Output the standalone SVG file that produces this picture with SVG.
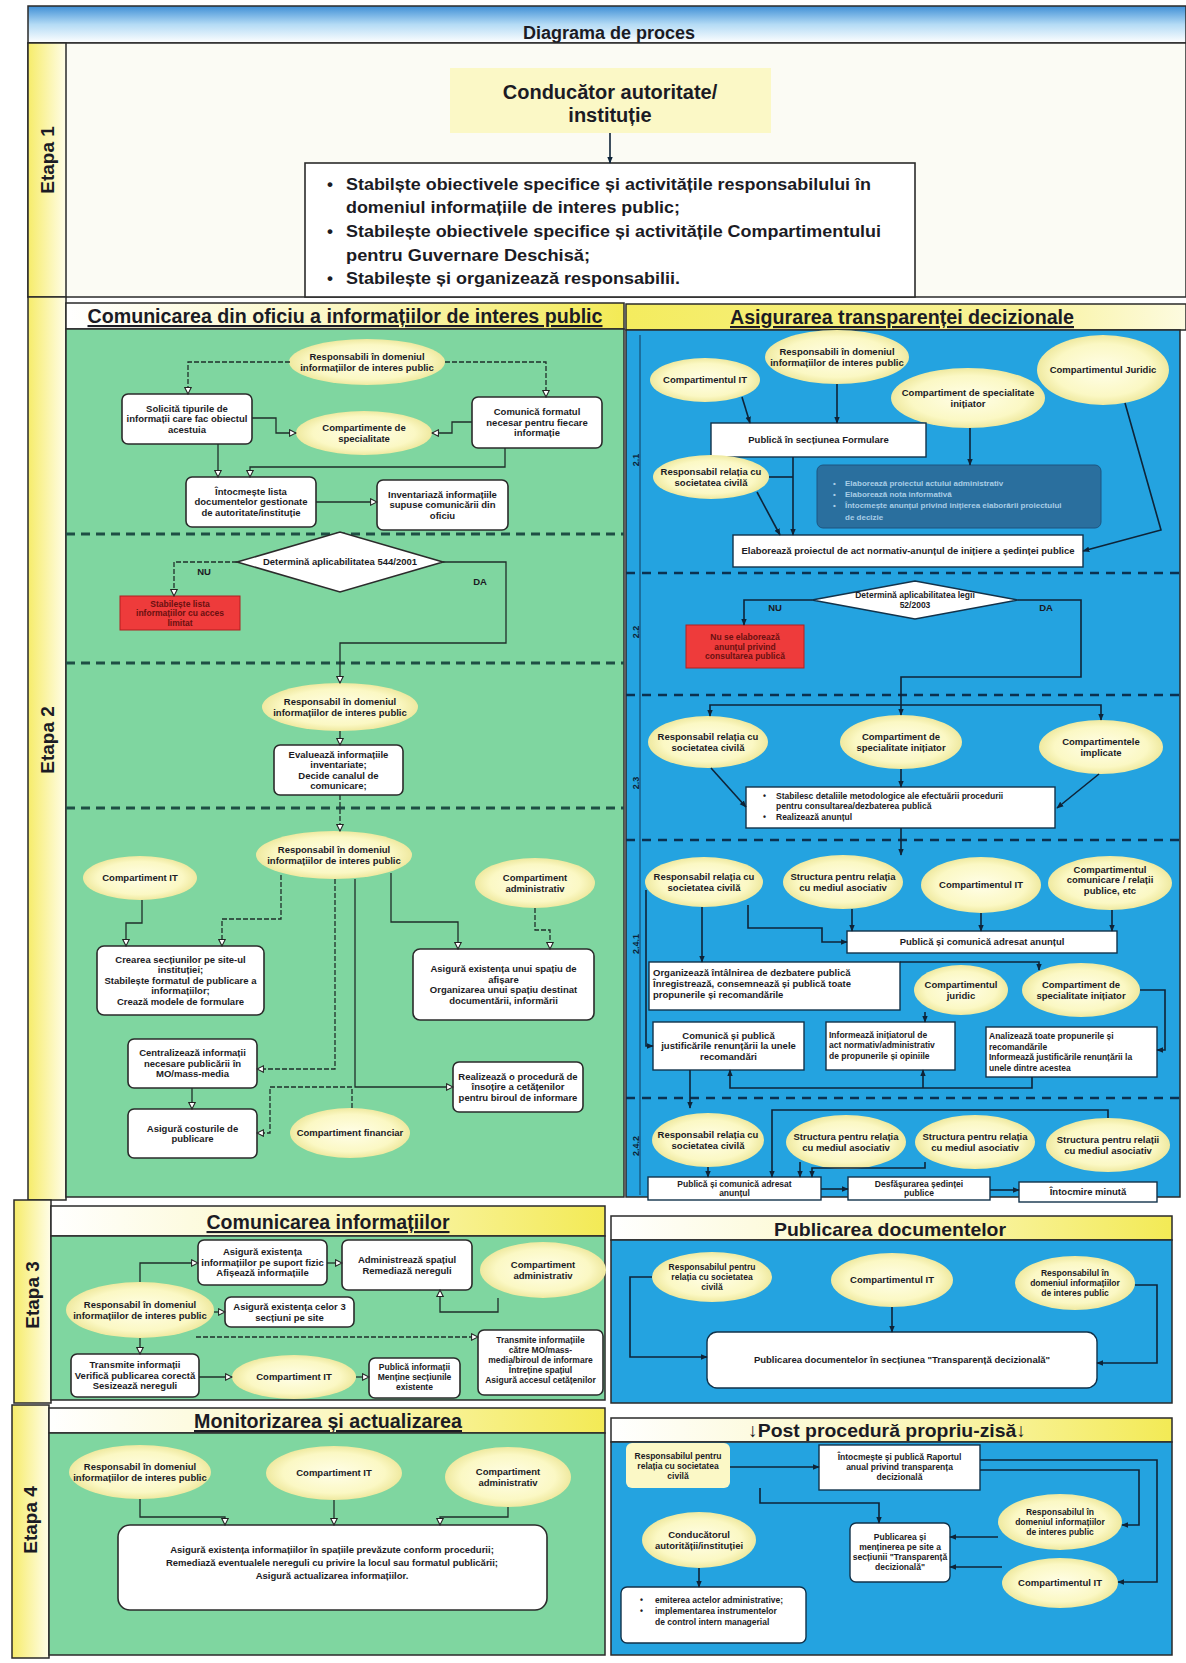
<svg xmlns="http://www.w3.org/2000/svg" width="1186" height="1663" viewBox="0 0 1186 1663">
<defs>
<style>
.t{font-family:"Liberation Sans Narrow","Liberation Sans",Arial,sans-serif;font-weight:bold;fill:#1b1b24}
.n{font-size:9.5px;text-anchor:middle}
.nb{font-size:8.5px;text-anchor:middle}
.l{text-anchor:start}
.hd{font-size:21px;text-anchor:middle;text-decoration:underline}
.et{font-size:19px;text-anchor:middle}
.box{fill:#fff;stroke:#2b2b2b;stroke-width:1.6}
.bbox{fill:#fff;stroke:#12324a;stroke-width:1.4}
.el{fill:url(#gEl)}
.cg{fill:none;stroke:#1f2f2a;stroke-width:1.3;marker-end:url(#ao)}
.dash{stroke-dasharray:5 2}
.cb{fill:none;stroke:#0e2438;stroke-width:1.6;marker-end:url(#af)}
.sep{stroke:#1e4e44;stroke-width:3;stroke-dasharray:9 6}
.sepb{stroke:#0b3150;stroke-width:2.5;stroke-dasharray:9 7}
.frame{stroke:#2a2a2a;stroke-width:1.5}
.green{fill:#7fd6a0}
.blue{fill:#24a3e0}
.red{fill:#ee3b3b;stroke:#b02020;stroke-width:1}
.rt{font-size:8.5px;text-anchor:middle;fill:#6a1010}
.lab{font-size:9px;text-anchor:middle;fill:#0d2236}
</style>
<linearGradient id="gTitle" x1="0" y1="0" x2="0" y2="1"><stop offset="0" stop-color="#3f8fd6"/><stop offset="0.5" stop-color="#b4dbf5"/><stop offset="1" stop-color="#ffffff"/></linearGradient>
<linearGradient id="gHdr" x1="0" y1="0" x2="1" y2="0"><stop offset="0" stop-color="#ffffff"/><stop offset="0.5" stop-color="#fbf7c2"/><stop offset="1" stop-color="#f3ea55"/></linearGradient>
<linearGradient id="gHdr2" x1="0" y1="0" x2="1" y2="0"><stop offset="0" stop-color="#f4ec5e"/><stop offset="0.7" stop-color="#f8f29a"/><stop offset="1" stop-color="#fdfbe0"/></linearGradient>
<linearGradient id="gLbl" x1="0" y1="0" x2="1" y2="0"><stop offset="0" stop-color="#f6ec6a"/><stop offset="1" stop-color="#fffde8"/></linearGradient>
<radialGradient id="gEl"><stop offset="0" stop-color="#fffee8"/><stop offset="0.75" stop-color="#fbf8c4"/><stop offset="1" stop-color="#efe9a0"/></radialGradient>
<marker id="ao" viewBox="0 0 10 10" refX="9" refY="5" markerWidth="8" markerHeight="8" orient="auto" markerUnits="userSpaceOnUse"><path d="M1,1 L9,5 L1,9 Z" fill="#fff" stroke="#222" stroke-width="1.3"/></marker>
<marker id="af" viewBox="0 0 10 10" refX="9" refY="5" markerWidth="7" markerHeight="7" orient="auto" markerUnits="userSpaceOnUse"><path d="M0,1 L10,5 L0,9 Z" fill="#0e2438"/></marker>
</defs>
<rect width="1186" height="1663" fill="#ffffff"/>

<!-- frames and panels -->
<g id="frames">
<rect x="28" y="6" width="1158" height="37" fill="url(#gTitle)" class="frame"/>
<text class="t" x="609" y="39" font-size="18" text-anchor="middle">Diagrama de proces</text>
<rect x="28" y="43" width="1158" height="254" fill="#fbfbf4" class="frame"/>
<rect x="28" y="43" width="38" height="254" fill="url(#gLbl)" class="frame"/>
<text class="t et" transform="translate(54,160) rotate(-90)">Etapa 1</text>

<rect x="28" y="297" width="38" height="903" fill="url(#gLbl)" class="frame"/>
<text class="t et" transform="translate(54,740) rotate(-90)">Etapa 2</text>
<rect x="66" y="303" width="558" height="26" fill="url(#gHdr)" class="frame"/>
<text class="t hd" x="345" y="323" textLength="515" lengthAdjust="spacingAndGlyphs">Comunicarea din oficiu a informațiilor de interes public</text>
<rect x="626" y="304" width="560" height="26" fill="url(#gHdr2)" class="frame"/>
<text class="t hd" x="902" y="324" textLength="344" lengthAdjust="spacingAndGlyphs">Asigurarea transparenței decizionale</text>
<rect x="66" y="329" width="558" height="868" class="green frame"/>
<rect x="626" y="330" width="554" height="867" class="blue frame"/>
<line x1="640" y1="335" x2="640" y2="1195" stroke="#123a5a" stroke-width="1"/>
<text class="t lab" transform="translate(639,460) rotate(-90)">2.1</text>
<text class="t lab" transform="translate(639,632) rotate(-90)">2.2</text>
<text class="t lab" transform="translate(639,783) rotate(-90)">2.3</text>
<text class="t lab" transform="translate(639,944) rotate(-90)">2.4.1</text>
<text class="t lab" transform="translate(639,1146) rotate(-90)">2.4.2</text>
<line x1="66" y1="534" x2="624" y2="534" class="sep"/>
<line x1="66" y1="663" x2="624" y2="663" class="sep"/>
<line x1="66" y1="808" x2="624" y2="808" class="sep"/>
<line x1="626" y1="573" x2="1180" y2="573" class="sepb"/>
<line x1="626" y1="695" x2="1180" y2="695" class="sepb"/>
<line x1="626" y1="840" x2="1180" y2="840" class="sepb"/>
<line x1="626" y1="1098" x2="1180" y2="1098" class="sepb"/>

<rect x="14" y="1200" width="37" height="203" fill="url(#gLbl)" class="frame"/>
<text class="t et" transform="translate(39,1295) rotate(-90)">Etapa 3</text>
<rect x="51" y="1206" width="554" height="30" fill="url(#gHdr)" class="frame"/>
<text class="t hd" x="328" y="1229" textLength="243" lengthAdjust="spacingAndGlyphs">Comunicarea informațiilor</text>
<rect x="51" y="1236" width="554" height="164" class="green frame"/>
<rect x="611" y="1216" width="561" height="24" fill="url(#gHdr)" class="frame"/>
<text class="t" x="890" y="1236" font-size="19" text-anchor="middle" textLength="232" lengthAdjust="spacingAndGlyphs">Publicarea documentelor</text>
<rect x="611" y="1240" width="561" height="163" class="blue frame"/>

<rect x="12" y="1405" width="37" height="253" fill="url(#gLbl)" class="frame"/>
<text class="t et" transform="translate(37,1520) rotate(-90)">Etapa 4</text>
<rect x="49" y="1408" width="556" height="25" fill="url(#gHdr)" class="frame"/>
<text class="t hd" x="328" y="1428" textLength="268" lengthAdjust="spacingAndGlyphs">Monitorizarea și actualizarea</text>
<rect x="49" y="1433" width="556" height="222" class="green frame"/>
<rect x="611" y="1418" width="561" height="24" fill="url(#gHdr)" class="frame"/>
<text class="t" x="887" y="1437" font-size="19" text-anchor="middle" textLength="278" lengthAdjust="spacingAndGlyphs">↓Post procedură propriu-zisă↓</text>
<rect x="611" y="1442" width="561" height="213" class="blue frame"/>
</g>

<!-- Etapa 1 nodes -->
<g id="n-conducator">
<rect x="450" y="68" width="321" height="65" fill="#fbf8c6"/>
<text class="t" font-size="20" text-anchor="middle" x="610" y="99">Conducător autoritate/</text>
<text class="t" font-size="20" text-anchor="middle" x="610" y="122">instituție</text>
</g>
<g id="n-obiective">
<rect x="305" y="163" width="610" height="134" class="box"/>
<g class="t" font-size="17">
<text x="327" y="190">•</text>
<text x="346" y="190" textLength="525" lengthAdjust="spacingAndGlyphs">Stabilște obiectivele specifice și activitățile responsabilului în</text>
<text x="346" y="213" textLength="334" lengthAdjust="spacingAndGlyphs">domeniul informațiile de interes  public;</text>
<text x="327" y="237">•</text>
<text x="346" y="237" textLength="535" lengthAdjust="spacingAndGlyphs">Stabilește obiectivele specifice și activitățile Compartimentului</text>
<text x="346" y="261" textLength="244" lengthAdjust="spacingAndGlyphs">pentru Guvernare Deschisă;</text>
<text x="327" y="284">•</text>
<text x="346" y="284" textLength="334" lengthAdjust="spacingAndGlyphs">Stabilește și organizează responsabilii.</text>
</g>
</g>

<!-- Etapa 2 left nodes -->
<g id="g-resp1"><ellipse cx="367" cy="362" rx="78" ry="23" class="el"/><text class="t n"><tspan x="367" y="360">Responsabili în domeniul</tspan><tspan x="367" y="370.5">informațiilor de interes public</tspan></text></g>
<g id="g-solicita"><rect x="122" y="394" width="130" height="50" rx="6" class="box"/><text class="t n"><tspan x="187" y="411.8">Solicită  tipurile de</tspan><tspan x="187" y="422.3">informații care fac obiectul</tspan><tspan x="187" y="432.8">acestuia</tspan></text></g>
<g id="g-compspec"><ellipse cx="364" cy="433" rx="68" ry="22" class="el"/><text class="t n"><tspan x="364" y="431">Compartimente de</tspan><tspan x="364" y="441.5">specialitate</tspan></text></g>
<g id="g-comunica"><rect x="472" y="397" width="130" height="51" rx="6" class="box"/><text class="t n"><tspan x="537" y="415.3">Comunică formatul</tspan><tspan x="537" y="425.8">necesar pentru fiecare</tspan><tspan x="537" y="436.3">informație</tspan></text></g>
<g id="g-intocmeste"><rect x="186" y="477" width="130" height="50" rx="6" class="box"/><text class="t n"><tspan x="251" y="494.8">Întocmește lista</tspan><tspan x="251" y="505.3">documentelor gestionate</tspan><tspan x="251" y="515.8">de autoritate/instituție</tspan></text></g>
<g id="g-inventariaza"><rect x="377" y="480" width="131" height="50" rx="6" class="box"/><text class="t n"><tspan x="442.5" y="497.8">Inventariază informațiile</tspan><tspan x="442.5" y="508.3">supuse comunicării din</tspan><tspan x="442.5" y="518.8">oficiu</tspan></text></g>
<g id="g-decizie"><polygon points="237,562 340,532 443,562 340,592" fill="#fff" stroke="#2b2b2b" stroke-width="1.6"/><text class="t n" x="340" y="565">Determină aplicabilitatea 544/2001</text><text class="t n" x="204" y="575">NU</text><text class="t n" x="480" y="585">DA</text></g>
<g id="g-restrict"><rect x="120" y="596" width="120" height="34" class="red"/><text class="t rt"><tspan x="180" y="606.5">Stabilește lista</tspan><tspan x="180" y="616">informațiilor cu acces</tspan><tspan x="180" y="625.5">limitat</tspan></text></g>
<g id="g-resp2"><ellipse cx="340" cy="707" rx="78" ry="24" class="el"/><text class="t n"><tspan x="340" y="705">Responsabil în domeniul</tspan><tspan x="340" y="715.5">informațiilor de interes public</tspan></text></g>
<g id="g-evalueaza"><rect x="274" y="745" width="129" height="50" rx="6" class="box"/><text class="t n"><tspan x="338.5" y="757.5">Evaluează informațiile</tspan><tspan x="338.5" y="768">inventariate;</tspan><tspan x="338.5" y="778.5">Decide canalul de</tspan><tspan x="338.5" y="789">comunicare;</tspan></text></g>
<g id="g-resp3"><ellipse cx="334" cy="855" rx="78" ry="24" class="el"/><text class="t n"><tspan x="334" y="853">Responsabil în domeniul</tspan><tspan x="334" y="863.5">informațiilor de interes public</tspan></text></g>
<g id="g-it"><ellipse cx="140" cy="878" rx="57" ry="22" class="el"/><text class="t n" x="140" y="881.3">Compartiment IT</text></g>
<g id="g-admin"><ellipse cx="535" cy="883" rx="60" ry="25" class="el"/><text class="t n"><tspan x="535" y="881">Compartiment</tspan><tspan x="535" y="891.5">administrativ</tspan></text></g>
<g id="g-crearea"><rect x="97" y="946" width="167" height="69" rx="7" class="box"/><text class="t n"><tspan x="180.5" y="962.8">Crearea secțiunilor pe site-ul</tspan><tspan x="180.5" y="973.3">instituției;</tspan><tspan x="180.5" y="983.8">Stabilește formatul de publicare a</tspan><tspan x="180.5" y="994.3">informațiilor;</tspan><tspan x="180.5" y="1004.8">Crează modele de formulare</tspan></text></g>
<g id="g-spatiu"><rect x="413" y="949" width="181" height="71" rx="7" class="box"/><text class="t n"><tspan x="503.5" y="972">Asigură existența unui spațiu de</tspan><tspan x="503.5" y="982.5">afișare</tspan><tspan x="503.5" y="993">Organizarea unui spațiu destinat</tspan><tspan x="503.5" y="1003.5">documentării, informării</tspan></text></g>
<g id="g-centralizeaza"><rect x="128" y="1039" width="129" height="49" rx="6" class="box"/><text class="t n"><tspan x="192.5" y="1056.3">Centralizează informații</tspan><tspan x="192.5" y="1066.8">necesare publicării în</tspan><tspan x="192.5" y="1077.3">MO/mass-media</tspan></text></g>
<g id="g-realizeaza"><rect x="453" y="1062" width="130" height="50" rx="6" class="box"/><text class="t n"><tspan x="518" y="1079.8">Realizează o procedură de</tspan><tspan x="518" y="1090.3">însoțire a cetățenilor</tspan><tspan x="518" y="1100.8">pentru biroul de informare</tspan></text></g>
<g id="g-costuri"><rect x="128" y="1109" width="129" height="49" rx="6" class="box"/><text class="t n"><tspan x="192.5" y="1131.5">Asigură costurile de</tspan><tspan x="192.5" y="1142">publicare</tspan></text></g>
<g id="g-financiar"><ellipse cx="350" cy="1133" rx="60" ry="25" class="el"/><text class="t n" x="350" y="1136.3">Compartiment financiar</text></g>

<!-- Etapa 2 right nodes -->
<g id="b-it1"><ellipse cx="705" cy="380" rx="55" ry="22" class="el"/><text class="t n" x="705" y="383.3">Compartimentul IT</text></g>
<g id="b-resp1"><ellipse cx="837" cy="357" rx="72" ry="27" class="el"/><text class="t n"><tspan x="837" y="355">Responsabili în domeniul</tspan><tspan x="837" y="365.5">informațiilor de interes public</tspan></text></g>
<g id="b-spec1"><ellipse cx="968" cy="398" rx="77" ry="30" class="el"/><text class="t n"><tspan x="968" y="396">Compartiment de specialitate</tspan><tspan x="968" y="406.5">inițiator</tspan></text></g>
<g id="b-juridic1"><ellipse cx="1103" cy="370" rx="66" ry="35" class="el"/><text class="t n" x="1103" y="373.3">Compartimentul Juridic</text></g>
<g id="b-formulare"><rect x="711" y="423" width="215" height="34" class="bbox"/><text class="t n" x="818.5" y="443.3">Publică în secțiunea Formulare</text></g>
<g id="b-soc1"><ellipse cx="711" cy="477" rx="58" ry="22" class="el"/><text class="t n"><tspan x="711" y="475">Responsabil relația cu</tspan><tspan x="711" y="485.5">societatea civilă</tspan></text></g>
<g id="b-elab"><rect x="817" y="465" width="284" height="63" rx="6" fill="#2a6f9e" stroke="#1d5580" stroke-width="1"/>
<g class="t" font-size="8" style="fill:#a8cde6">
<text x="833" y="486">•</text><text x="845" y="486">Elaborează proiectul actului administrativ</text>
<text x="833" y="497">•</text><text x="845" y="497">Elaborează nota informativă</text>
<text x="833" y="508">•</text><text x="845" y="508">Întocmește anunțul privind inițierea elaborării proiectului</text>
<text x="845" y="520">de decizie</text></g></g>
<g id="b-anunt"><rect x="733" y="535" width="350" height="32" class="bbox"/><text class="t n" x="908" y="554.3">Elaborează  proiectul de act normativ-anunțul de inițiere a ședinței publice</text></g>
<g id="b-decizie"><polygon points="812,600 915,581 1018,600 915,619" fill="#fff" stroke="#12324a" stroke-width="1.4"/><text class="t nb"><tspan x="915" y="598">Determină aplicabilitatea legii</tspan><tspan x="915" y="607.5">52/2003</tspan></text><text class="t n" x="775" y="611">NU</text><text class="t n" x="1046" y="611">DA</text></g>
<g id="b-nu"><rect x="686" y="625" width="118" height="43" class="red"/><text class="t rt"><tspan x="745" y="640">Nu se elaborează</tspan><tspan x="745" y="649.5">anunțul privind</tspan><tspan x="745" y="659">consultarea publică</tspan></text></g>
<g id="b-soc2"><ellipse cx="708" cy="742" rx="60" ry="26" class="el"/><text class="t n"><tspan x="708" y="740">Responsabil relația cu</tspan><tspan x="708" y="750.5">societatea civilă</tspan></text></g>
<g id="b-spec2"><ellipse cx="901" cy="742" rx="61" ry="27" class="el"/><text class="t n"><tspan x="901" y="740">Compartiment de</tspan><tspan x="901" y="750.5">specialitate inițiator</tspan></text></g>
<g id="b-impl"><ellipse cx="1101" cy="747" rx="62" ry="27" class="el"/><text class="t n"><tspan x="1101" y="745">Compartimentele</tspan><tspan x="1101" y="755.5">implicate</tspan></text></g>
<g id="b-metod"><rect x="746" y="787" width="309" height="41" class="bbox"/><g class="t" font-size="8.5"><text x="763" y="799">•</text><text x="776" y="799">Stabilesc detaliile metodologice ale efectuării procedurii</text><text x="776" y="809">pentru consultarea/dezbaterea publică</text><text x="763" y="820">•</text><text x="776" y="820">Realizează anunțul</text></g></g>
<g id="b-soc3"><ellipse cx="704" cy="882" rx="59" ry="25" class="el"/><text class="t n"><tspan x="704" y="880">Responsabil relația cu</tspan><tspan x="704" y="890.5">societatea civilă</tspan></text></g>
<g id="b-asoc1"><ellipse cx="843" cy="882" rx="60" ry="27" class="el"/><text class="t n"><tspan x="843" y="880">Structura pentru relația</tspan><tspan x="843" y="890.5">cu mediul asociativ</tspan></text></g>
<g id="b-it2"><ellipse cx="981" cy="885" rx="60" ry="28" class="el"/><text class="t n" x="981" y="888.3">Compartimentul IT</text></g>
<g id="b-comrp"><ellipse cx="1110" cy="883" rx="62" ry="27" class="el"/><text class="t n"><tspan x="1110" y="872.8">Compartimentul</tspan><tspan x="1110" y="883.3">comunicare / relații</tspan><tspan x="1110" y="893.8">publice, etc</tspan></text></g>
<g id="b-publica1"><rect x="847" y="931" width="270" height="22" class="bbox"/><text class="t n" x="982" y="945.3">Publică și comunică adresat anunțul</text></g>
<g id="b-organizeaza"><rect x="649" y="962" width="251" height="48" class="bbox"/><text class="t n l"><tspan x="653" y="976">Organizează întâlnirea de dezbatere publică</tspan><tspan x="653" y="987">Înregistrează, consemnează și publică toate</tspan><tspan x="653" y="998">propunerile și recomandările</tspan></text></g>
<g id="b-juridic2"><ellipse cx="961" cy="990" rx="47" ry="25" class="el"/><text class="t n"><tspan x="961" y="988">Compartimentul</tspan><tspan x="961" y="998.5">juridic</tspan></text></g>
<g id="b-spec3"><ellipse cx="1081" cy="990" rx="59" ry="27" class="el"/><text class="t n"><tspan x="1081" y="988">Compartiment de</tspan><tspan x="1081" y="998.5">specialitate inițiator</tspan></text></g>
<g id="b-justif"><rect x="653" y="1022" width="151" height="48" class="bbox"/><text class="t n"><tspan x="728.5" y="1038.8">Comunică și publică</tspan><tspan x="728.5" y="1049.3">justificările renunțării la unele</tspan><tspan x="728.5" y="1059.8">recomandări</tspan></text></g>
<g id="b-informeaza"><rect x="826" y="1022" width="129" height="48" class="bbox"/><text class="t nb l"><tspan x="829" y="1037.5">Informează inițiatorul de</tspan><tspan x="829" y="1048">act normativ/administrativ</tspan><tspan x="829" y="1058.5">de propunerile și opiniile</tspan></text></g>
<g id="b-analizeaza"><rect x="986" y="1027" width="171" height="50" class="bbox"/><text class="t nb l"><tspan x="989" y="1039">Analizează toate propunerile și</tspan><tspan x="989" y="1049.5">recomandările</tspan><tspan x="989" y="1060">Informează justificările renunțării la</tspan><tspan x="989" y="1070.5">unele dintre acestea</tspan></text></g>
<g id="b-soc4"><ellipse cx="708" cy="1140" rx="56" ry="27" class="el"/><text class="t n"><tspan x="708" y="1138">Responsabil relația cu</tspan><tspan x="708" y="1148.5">societatea civilă</tspan></text></g>
<g id="b-asoc2"><ellipse cx="846" cy="1142" rx="60" ry="27" class="el"/><text class="t n"><tspan x="846" y="1140">Structura pentru relația</tspan><tspan x="846" y="1150.5">cu mediul asociativ</tspan></text></g>
<g id="b-asoc3"><ellipse cx="975" cy="1142" rx="60" ry="27" class="el"/><text class="t n"><tspan x="975" y="1140">Structura pentru relația</tspan><tspan x="975" y="1150.5">cu mediul asociativ</tspan></text></g>
<g id="b-asoc4"><ellipse cx="1108" cy="1145" rx="62" ry="27" class="el"/><text class="t n"><tspan x="1108" y="1143">Structura pentru relații</tspan><tspan x="1108" y="1153.5">cu mediul asociativ</tspan></text></g>
<g id="b-publica2"><rect x="648" y="1177" width="173" height="23" class="bbox"/><text class="t nb"><tspan x="734.5" y="1186.5">Publică și comunică adresat</tspan><tspan x="734.5" y="1196">anunțul</tspan></text></g>
<g id="b-sedinta"><rect x="848" y="1177" width="142" height="23" class="bbox"/><text class="t nb"><tspan x="919" y="1186.5">Desfășurarea ședinței</tspan><tspan x="919" y="1196">publice</tspan></text></g>
<g id="b-minuta"><rect x="1019" y="1182" width="138" height="20" class="bbox"/><text class="t n" x="1088" y="1195.3">Întocmire minută</text></g>

<!-- Etapa 3 nodes -->
<g id="e3-suport"><rect x="198" y="1240" width="129" height="45" rx="6" class="box"/><text class="t n"><tspan x="262.5" y="1255.3">Asigură existența</tspan><tspan x="262.5" y="1265.8">informațiilor pe suport fizic</tspan><tspan x="262.5" y="1276.3">Afișează informațiile</tspan></text></g>
<g id="e3-administreaza"><rect x="342" y="1240" width="130" height="50" rx="6" class="box"/><text class="t n"><tspan x="407" y="1263">Administrează spațiul</tspan><tspan x="407" y="1273.5">Remediază nereguli</tspan></text></g>
<g id="e3-admin"><ellipse cx="543" cy="1270" rx="63" ry="28" class="el"/><text class="t n"><tspan x="543" y="1268">Compartiment</tspan><tspan x="543" y="1278.5">administrativ</tspan></text></g>
<g id="e3-resp"><ellipse cx="140" cy="1310" rx="74" ry="28" class="el"/><text class="t n"><tspan x="140" y="1308">Responsabil în domeniul</tspan><tspan x="140" y="1318.5">informațiilor de interes public</tspan></text></g>
<g id="e3-sectiuni"><rect x="225" y="1297" width="129" height="30" rx="6" class="box"/><text class="t n"><tspan x="289.5" y="1310">Asigură existența celor 3</tspan><tspan x="289.5" y="1320.5">secțiuni pe site</tspan></text></g>
<g id="e3-transmite-mo"><rect x="478" y="1330" width="125" height="65" rx="6" class="box"/><text class="t nb"><tspan x="540.5" y="1343">Transmite informațiile</tspan><tspan x="540.5" y="1353">către MO/mass-</tspan><tspan x="540.5" y="1363">media/biroul de informare</tspan><tspan x="540.5" y="1373">Întreține spațiul</tspan><tspan x="540.5" y="1383">Asigură accesul cetățenilor</tspan></text></g>
<g id="e3-transmite"><rect x="71" y="1354" width="128" height="43" rx="6" class="box"/><text class="t n"><tspan x="135" y="1368.3">Transmite informații</tspan><tspan x="135" y="1378.8">Verifică publicarea corectă</tspan><tspan x="135" y="1389.3">Sesizează nereguli</tspan></text></g>
<g id="e3-it"><ellipse cx="294" cy="1377" rx="62" ry="22" class="el"/><text class="t n" x="294" y="1380.3">Compartiment IT</text></g>
<g id="e3-publica"><rect x="369" y="1358" width="91" height="40" rx="6" class="box"/><text class="t nb"><tspan x="414.5" y="1369.5">Publică informații</tspan><tspan x="414.5" y="1379.5">Menține secțiunile</tspan><tspan x="414.5" y="1389.5">existente</tspan></text></g>
<g id="e3-soc"><ellipse cx="712" cy="1277" rx="60" ry="25" class="el"/><text class="t nb"><tspan x="712" y="1270">Responsabilul pentru</tspan><tspan x="712" y="1280">relația cu societatea</tspan><tspan x="712" y="1290">civilă</tspan></text></g>
<g id="e3-bit"><ellipse cx="892" cy="1280" rx="61" ry="27" class="el"/><text class="t n" x="892" y="1283.3">Compartimentul IT</text></g>
<g id="e3-bresp"><ellipse cx="1075" cy="1283" rx="60" ry="27" class="el"/><text class="t nb"><tspan x="1075" y="1276">Responsabilul în</tspan><tspan x="1075" y="1286">domeniul informațiilor</tspan><tspan x="1075" y="1296">de interes public</tspan></text></g>
<g id="e3-publicarea"><rect x="707" y="1332" width="390" height="56" rx="10" class="bbox"/><text class="t n" x="902" y="1363.3">Publicarea documentelor în secțiunea "Transparență decizională"</text></g>

<!-- Etapa 4 nodes -->
<g id="e4-resp"><ellipse cx="140" cy="1472" rx="71" ry="27" class="el"/><text class="t n"><tspan x="140" y="1470">Responsabil în domeniul</tspan><tspan x="140" y="1480.5">informațiilor de interes public</tspan></text></g>
<g id="e4-it"><ellipse cx="334" cy="1473" rx="68" ry="27" class="el"/><text class="t n" x="334" y="1476.3">Compartiment IT</text></g>
<g id="e4-admin"><ellipse cx="508" cy="1477" rx="63" ry="30" class="el"/><text class="t n"><tspan x="508" y="1475">Compartiment</tspan><tspan x="508" y="1485.5">administrativ</tspan></text></g>
<g id="e4-asigura"><rect x="118" y="1525" width="429" height="85" rx="12" class="box"/><text class="t n"><tspan x="332" y="1553">Asigură existența informațiilor în spațiile prevăzute conform procedurii;</tspan><tspan x="332" y="1566">Remediază eventualele nereguli cu privire la locul sau formatul publicării;</tspan><tspan x="332" y="1579">Asigură actualizarea informațiilor.</tspan></text></g>
<g id="e4-soc"><rect x="626" y="1443" width="104" height="45" rx="6" fill="#fbf8c6"/><text class="t nb"><tspan x="678" y="1458.5">Responsabilul pentru</tspan><tspan x="678" y="1468.5">relația cu societatea</tspan><tspan x="678" y="1478.5">civilă</tspan></text></g>
<g id="e4-raport"><rect x="819" y="1445" width="161" height="45" class="bbox"/><text class="t nb"><tspan x="899.5" y="1459.5">Întocmește și publică Raportul</tspan><tspan x="899.5" y="1469.5">anual privind transparența</tspan><tspan x="899.5" y="1479.5">decizională</tspan></text></g>
<g id="e4-conducator"><ellipse cx="699" cy="1540" rx="57" ry="28" class="el"/><text class="t n"><tspan x="699" y="1538">Conducătorul</tspan><tspan x="699" y="1548.5">autorității/instituției</tspan></text></g>
<g id="e4-publicarea"><rect x="850" y="1523" width="100" height="59" rx="6" class="bbox"/><text class="t nb"><tspan x="900" y="1540">Publicarea și</tspan><tspan x="900" y="1550">menținerea pe site a</tspan><tspan x="900" y="1560">secțiunii "Transparență</tspan><tspan x="900" y="1570">decizională"</tspan></text></g>
<g id="e4-bresp"><ellipse cx="1060" cy="1522" rx="62" ry="28" class="el"/><text class="t nb"><tspan x="1060" y="1515">Responsabilul în</tspan><tspan x="1060" y="1525">domeniul informațiilor</tspan><tspan x="1060" y="1535">de interes public</tspan></text></g>
<g id="e4-bit"><ellipse cx="1060" cy="1583" rx="58" ry="25" class="el"/><text class="t n" x="1060" y="1586.3">Compartimentul IT</text></g>
<g id="e4-emitere"><rect x="621" y="1587" width="185" height="56" rx="6" class="bbox"/><g class="t" font-size="8.5"><text x="640" y="1603">•</text><text x="655" y="1603">emiterea actelor administrative;</text><text x="640" y="1614">•</text><text x="655" y="1614">implementarea instrumentelor</text><text x="655" y="1625">de control intern managerial</text></g></g>

<!-- connectors -->
<g id="connectors">
<line x1="610" y1="133" x2="610" y2="163" class="cb"/>
<path d="M290 362 H188 V394" class="cg dash"/>
<path d="M445 362 H546 V397" class="cg dash"/>
<path d="M252 418 H276 V433 H296" class="cg"/>
<path d="M472 422 H452 V433 H432" class="cg"/>
<path d="M218 444 V477" class="cg"/>
<path d="M505 448 V467 H250 V477" class="cg"/>
<path d="M316 502 H377" class="cg"/>
<path d="M237 562 H174 V596" class="cg dash"/>
<path d="M443 562 H506 V643 H340 V683" class="cg"/>
<path d="M340 731 V745" class="cg"/>
<path d="M340 795 V831" class="cg dash"/>
<path d="M142 900 V923 H126 V946" class="cg"/>
<path d="M281 875 V919 H222 V946" class="cg dash"/>
<path d="M335 879 V1069 H257" class="cg dash"/>
<path d="M355 879 V1087 H453" class="cg"/>
<path d="M352 1108 V1087 H270 V1133 H257" class="cg dash"/>
<path d="M391 873 V922 H458 V949" class="cg"/>
<path d="M535 908 V930 H550 V949" class="cg dash"/>
<path d="M192 1088 V1109" class="cg"/>

<path d="M742 397 L750 423" class="cb"/>
<path d="M837 384 V423" class="cb"/>
<path d="M970 428 V465" class="cb"/>
<path d="M1125 403 L1161 530 L1083 551" class="cb"/>
<path d="M793 457 V535" class="cb"/>
<path d="M769 477 H793" fill="none" stroke="#0e2438" stroke-width="1.6"/>
<path d="M757 492 L780 535" class="cb"/>
<path d="M812 600 H744 V625" class="cb"/>
<path d="M1018 600 H1081 V677 H901 V715" class="cb"/>
<path d="M901 705 H710 V716" class="cb"/>
<path d="M901 705 H1101 V720" class="cb"/>
<path d="M711 768 L746 807" class="cb"/>
<path d="M901 769 V787" class="cb"/>
<path d="M1099 774 L1057 808" class="cb"/>
<path d="M901 828 V855" class="cb"/>
<path d="M748 905 V928 H822 V942 H847" class="cb"/>
<path d="M852 909 V931" class="cb"/>
<path d="M981 913 V931" class="cb"/>
<path d="M1112 910 V931" class="cb"/>
<path d="M702 907 V962" class="cb"/>
<path d="M646 890 V1046 H653" class="cb"/>
<path d="M900 962 H1039 V970" class="cb"/>
<path d="M1140 990 H1165 V1050 H1157" class="cb"/>
<path d="M925 1012 V1022" class="cb"/>
<path d="M1032 1077 V1088 H730 V1070" class="cb"/>
<path d="M923 1088 V1070" class="cb"/>
<path d="M690 1070 V1108" class="cb"/>
<path d="M1108 1118 V1110 H772 V1177" class="cb"/>
<path d="M708 1167 V1177" class="cb"/>
<path d="M800 1162 V1177" class="cb"/>
<path d="M925 1162 V1168 H812 V1177" class="cb"/>
<path d="M821 1189 H848" class="cb"/>
<path d="M990 1190 H1019" class="cb"/>

<path d="M140 1282 V1263 H198" class="cg"/>
<path d="M327 1263 H342" class="cg"/>
<path d="M498 1298 V1312 H440 V1290" class="cg"/>
<path d="M214 1312 H225" class="cg"/>
<path d="M196 1337 H478" class="cg dash"/>
<path d="M140 1338 V1354" class="cg"/>
<path d="M199 1377 H232" class="cg"/>
<path d="M356 1377 H369" class="cg"/>
<path d="M892 1307 V1332" class="cb"/>
<path d="M652 1277 H630 V1357 H707" class="cb"/>
<path d="M1135 1285 H1157 V1363 H1097" class="cb"/>

<path d="M140 1499 V1517 H225 V1525" class="cg"/>
<path d="M334 1500 V1525" class="cg"/>
<path d="M508 1507 V1517 H440 V1525" class="cg"/>
<path d="M730 1467 H819" class="cb"/>
<path d="M760 1488 V1503 H879 V1523" class="cb"/>
<path d="M980 1460 H1157 V1582 H1118" class="cb"/>
<path d="M980 1470 H1139 V1525 H1122" class="cb"/>
<path d="M998 1537 H950" class="cb"/>
<path d="M1002 1567 H950" class="cb"/>
<path d="M699 1568 V1587" class="cb"/>
</g>
</svg>
